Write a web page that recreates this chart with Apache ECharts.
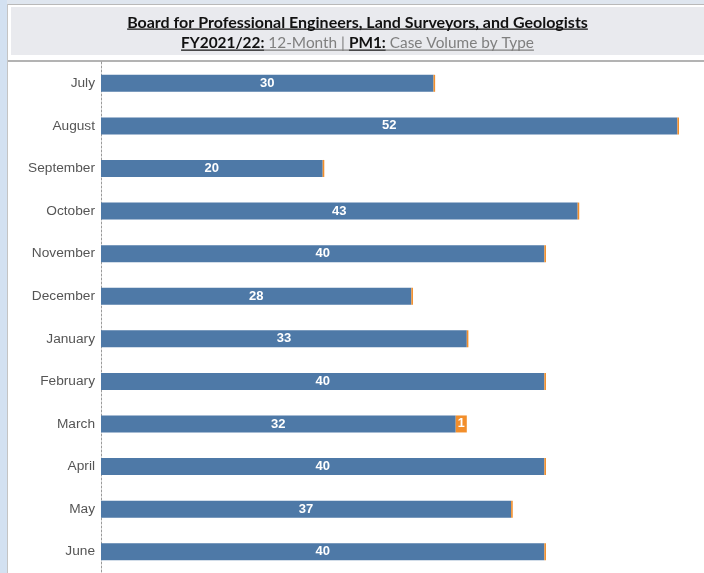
<!DOCTYPE html>
<html>
<head>
<meta charset="utf-8">
<script src="https://cdn.jsdelivr.net/npm/echarts@6/dist/echarts.min.js"></script>
<style>
html,body{margin:0;padding:0;background:#fff;}
#c{width:704px;height:573px;}
</style>
</head>
<body>
<div id="c"></div>
<script>
const months = ['July','August','September','October','November','December','January','February','March','April','May','June'];
const typeAValues = [30,52,20,43,40,28,33,40,32,40,37,40];
const typeBValues = [0,0,0,0,0,0,0,0,1,0,0,0];
const titleLine1 = 'Board for Professional Engineers, Land Surveyors, and Geologists';
const titleLine2 = [
  {text:'FY2021/22:', bold:true, color:'#111'},
  {text:' 12-Month | ', bold:false, color:'#7f7f7f'},
  {text:'PM1:', bold:true, color:'#111'},
  {text:' Case Volume by Type', bold:false, color:'#7f7f7f'}
];

const FONT = 'Lato';
const cv = document.createElement('canvas').getContext('2d');
function fnt(bold, size){ return (bold ? 'bold ' : '') + size + 'px ' + FONT; }
function measure(t, bold, size){ cv.font = fnt(bold, size); return cv.measureText(t).width; }

const centerX = 357.5;
const graphics = [];
// frame backgrounds
graphics.push({type:'rect', z:-10, shape:{x:0,y:0,width:704,height:4}, style:{fill:'#dfe6ef'}});
graphics.push({type:'rect', z:-10, shape:{x:0,y:0,width:7,height:573}, style:{fill:'#d3e1f1'}});
graphics.push({type:'rect', z:-9, shape:{x:7,y:4,width:697,height:1}, style:{fill:'#b9b9b9'}});
graphics.push({type:'rect', z:-9, shape:{x:7,y:4,width:1,height:569}, style:{fill:'#c4c4c4'}});
graphics.push({type:'rect', z:-9, shape:{x:11,y:7,width:693,height:48}, style:{fill:'#e9eaee'}});
graphics.push({type:'rect', z:-9, shape:{x:8,y:60,width:696,height:2}, style:{fill:'#b3b3b3'}});

// title line 1
const base1 = 14;
const s1 = base1 * 461 / measure(titleLine1, true, base1);
const w1 = measure(titleLine1, true, s1);
const x1 = centerX - w1/2;
graphics.push({type:'text', x:x1, y:22.5, style:{text:titleLine1, font:fnt(true,s1), fill:'#111', align:'left', verticalAlign:'middle'}});
graphics.push({type:'rect', shape:{x:x1,y:28.5,width:w1,height:1.2}, style:{fill:'#111'}});

// title line 2
const base2 = 14;
let tw = 0; titleLine2.forEach(s=>{ tw += measure(s.text, s.bold, base2); });
const s2 = base2 * 353 / tw;
let w2 = 0; titleLine2.forEach(s=>{ s.w = measure(s.text, s.bold, s2); w2 += s.w; });
let xx = centerX - w2/2;
titleLine2.forEach(s=>{
  graphics.push({type:'text', x:xx, y:43.5, style:{text:s.text, font:fnt(s.bold,s2), fill:s.color, align:'left', verticalAlign:'middle'}});
  graphics.push({type:'rect', shape:{x:xx,y:49.5,width:s.w,height:1.2}, style:{fill:s.color}});
  xx += s.w;
});

const chart = echarts.init(document.getElementById('c'));
chart.setOption({
  animation:false,
  backgroundColor:'#fff',
  graphic: graphics,
  grid:{left:101, right:0, top:62, bottom:-2, containLabel:false},
  xAxis:{type:'value', min:0, max:54.4, show:false},
  yAxis:{
    type:'category', data:months, inverse:true,
    axisLine:{show:true, lineStyle:{color:'#9a9a9a', type:[2,2], width:1}},
    axisTick:{show:false},
    axisLabel:{color:'#555', fontSize:13.7, fontFamily:'Liberation Sans, Arial, sans-serif', margin:6}
  },
  series:[
    {type:'bar', name:'Type A', stack:'t', data:typeAValues, barWidth:17,
     itemStyle:{color:'#4e79a7'},
     label:{show:true, position:'inside', color:'#fff', fontWeight:'bold', fontSize:13, fontFamily:'Liberation Sans, Arial, sans-serif'}},
    {type:'bar', name:'Type B', stack:'t', data:typeBValues, barWidth:17, barMinHeight:1.6,
     itemStyle:{color:'#f28e2b'},
     label:{show:true, position:'inside', color:'#fff', fontWeight:'bold', fontSize:12.5, fontFamily:'Liberation Sans, Arial, sans-serif',
       formatter:p=> p.value > 0 ? String(p.value) : ''}}
  ]
});
</script>
</body>
</html>
